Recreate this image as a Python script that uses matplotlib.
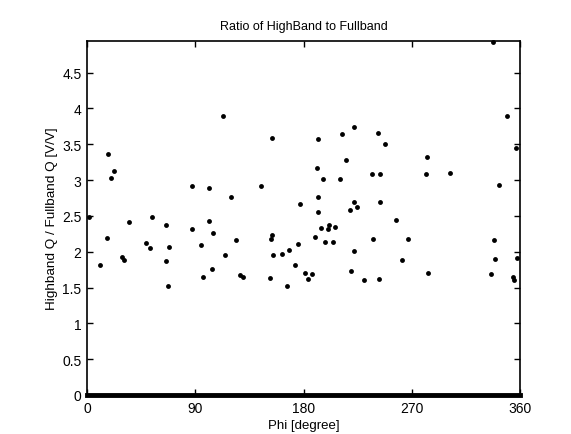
import matplotlib
matplotlib.use("Agg")
import matplotlib.pyplot as plt

plt.rcParams['font.family'] = ['Liberation Sans', 'DejaVu Sans']

phi = [1.4, 11.1, 16.6, 17.2, 19.9, 22.4, 29.4, 30.8, 34.6, 48.8, 52.1, 54.3,
       65.7, 66.0, 67.3, 68.4, 87.0, 87.6, 94.5, 96.4, 101.4, 101.7, 103.9,
       104.7, 112.8, 114.7, 119.4, 123.6, 126.9, 129.9, 144.9, 152.4, 152.7,
       153.5, 154.0, 154.6, 162.1, 166.0, 167.9, 172.6, 175.1, 177.3, 180.9,
       184.0, 187.3, 189.5, 191.2, 191.7, 192.3, 192.3, 194.2, 196.2, 197.8,
       200.1, 200.9, 204.5, 206.2, 210.3, 211.7, 215.3, 218.4, 219.9, 221.7,
       221.9, 222.2, 224.7, 230.3, 236.9, 237.7, 242.2, 242.7, 243.5, 243.5,
       247.7, 256.6, 262.1, 266.8, 281.5, 282.4, 283.1, 301.4, 336.1, 337.8,
       338.3, 339.4, 342.5, 349.6, 354.1, 355.2, 356.4, 357.2]
ratio = [2.49, 1.82, 2.19, 3.36, 3.03, 3.12, 1.93, 1.89, 2.41, 2.12, 2.05, 2.49,
         1.87, 2.37, 1.52, 2.07, 2.32, 2.92, 2.10, 1.64, 2.89, 2.43, 1.76,
         2.26, 3.89, 1.95, 2.76, 2.16, 1.67, 1.65, 2.92, 1.63, 2.17,
         2.23, 3.58, 1.96, 1.97, 1.52, 2.03, 1.82, 2.11, 2.66, 1.70,
         1.62, 1.69, 2.20, 3.17, 2.55, 3.57, 2.76, 2.33, 3.02, 2.13,
         2.31, 2.37, 2.13, 2.34, 3.02, 3.64, 3.28, 2.58, 1.73, 2.69,
         2.01, 3.74, 2.62, 1.61, 3.09, 2.17, 3.65, 1.62, 3.08, 2.70,
         3.50, 2.44, 1.89, 2.18, 3.09, 3.32, 1.70, 3.10, 1.69, 4.93,
         2.16, 1.90, 2.93, 3.90, 1.65, 1.60, 3.44, 1.91]

xticks = [0, 90, 180, 270, 360]
xticklabels = ['0', '90', '180', '270', '360']
yticks = [0, 0.5, 1, 1.5, 2, 2.5, 3, 3.5, 4, 4.5]
yticklabels = ['0', '0.5', '1', '1.5', '2', '2.5', '3', '3.5', '4', '4.5']

fig = plt.figure(figsize=(5.71, 4.35), dpi=100)
ax = fig.add_axes([87/571, 39/435, (520-87)/571, (396-42)/435])

ax.plot(phi, ratio, 'o', color='black', markersize=3.5, markeredgewidth=0,
        clip_on=False)

ax.set_xlim(0, 360)
ax.set_ylim(0, 4.94)
ax.set_xticks(xticks)
ax.set_xticklabels(xticklabels)
ax.set_yticks(yticks)
ax.set_yticklabels(yticklabels)

ax.tick_params(direction='in', top=True, right=True, length=4, width=1,
               labelsize=10, colors='black', pad=4)
for s in ax.spines.values():
    s.set_linewidth(1.2)
    s.set_color('black')
ax.spines['bottom'].set_linewidth(3.5)

ax.set_title('Ratio of HighBand to Fullband', fontsize=9, pad=9)
ax.set_xlabel('Phi [degree]', fontsize=9.5, labelpad=3)
ax.set_ylabel('Highband Q / Fullband Q [V/V]', fontsize=9.7, labelpad=3)

fig.savefig('out.png', dpi=100)
